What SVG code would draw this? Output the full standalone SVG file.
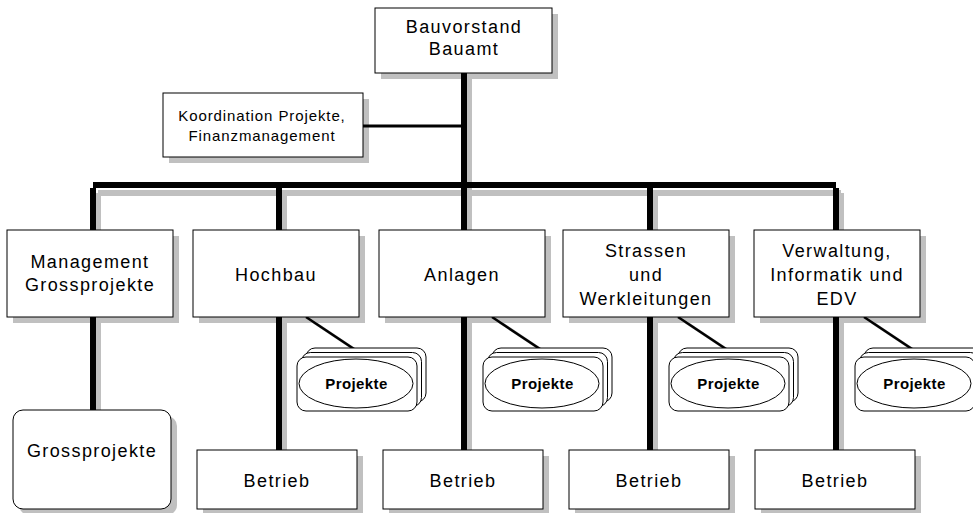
<svg xmlns="http://www.w3.org/2000/svg" width="973" height="513" viewBox="0 0 973 513">
<defs>
<style>
.bx{fill:#fff;stroke:#000;stroke-width:1}
.sh{fill:#c0c0c0;stroke:none}
.t{font-family:"Liberation Sans",Arial,sans-serif;font-size:18px;letter-spacing:1.4px;fill:#000;text-anchor:middle}
.ts{font-family:"Liberation Sans",Arial,sans-serif;font-size:15px;letter-spacing:0.9px;fill:#000;text-anchor:middle}
.pj{font-family:"Liberation Sans",Arial,sans-serif;font-size:15px;font-weight:bold;letter-spacing:0.4px;fill:#000;text-anchor:middle}
.ln{fill:none;stroke:#000;stroke-width:6}
.lns{fill:none;stroke:#c0c0c0;stroke-width:6}
.card{fill:#fff;stroke:#000;stroke-width:1}
</style>
<g id="stack">
<rect class="card" x="9" y="-9" width="120" height="54" rx="9"/>
<rect class="card" x="4.5" y="-4.5" width="120" height="54" rx="9"/>
<rect class="card" x="0" y="0" width="120" height="54" rx="9"/>
<ellipse cx="59" cy="26.5" rx="57" ry="24.5" fill="#fff" stroke="#000" stroke-width="1"/>
<text class="pj" x="59.5" y="32">Projekte</text>
</g>
</defs>

<!-- box shadows -->
<g id="shadows">
<rect class="sh" x="381" y="14" width="177" height="65"/>
<rect class="sh" x="169" y="99" width="200" height="64"/>
<rect class="sh" x="13" y="236" width="166" height="87"/>
<rect class="sh" x="199" y="236" width="166" height="87"/>
<rect class="sh" x="385" y="236" width="166" height="87"/>
<rect class="sh" x="569" y="236" width="166" height="87"/>
<rect class="sh" x="760" y="236" width="166" height="87"/>
<rect class="sh" x="19" y="416" width="158" height="99" rx="10"/>
<rect class="sh" x="203" y="456" width="160" height="59"/>
<rect class="sh" x="389" y="456" width="160" height="59"/>
<rect class="sh" x="575" y="456" width="160" height="59"/>
<rect class="sh" x="761" y="456" width="160" height="59"/>
</g>

<g id="connectors">
<g transform="translate(5,5)">
<path class="lns" d="M464 73 V450 M93 188 H836 M93 188 V410 M279 188 V450 M650 188 V450 M836 188 V450"/>
</g>
<path class="ln" d="M464 73 V450 M93 185 H836 M93 188 V410 M279 188 V450 M650 188 V450 M836 188 V450"/>
<line x1="363" y1="126" x2="464" y2="126" stroke="#000" stroke-width="3"/>
<g stroke="#c0c0c0" stroke-width="3" fill="none">
<path d="M309 319 L360 353 M495 319 L546 353 M681 319 L732 353 M867 319 L918 353"/>
</g>
<g stroke="#000" stroke-width="2.5" fill="none">
<path d="M306 317 L357 351 M492 317 L543 351 M678 317 L729 351 M864 317 L915 351"/>
</g>
</g>

<g id="bauvorstand">
<rect class="bx" x="375" y="8" width="177" height="65"/>
<text class="t" x="464" y="33">Bauvorstand</text>
<text class="t" x="464" y="55">Bauamt</text>
</g>

<g id="koordination">
<rect class="bx" x="163" y="93" width="200" height="64"/>
<text class="ts" x="262" y="121">Koordination Projekte,</text>
<text class="ts" x="262" y="141">Finanzmanagement</text>
</g>

<g id="management">
<rect class="bx" x="7" y="230" width="166" height="87"/>
<text class="t" x="90" y="268">Management</text>
<text class="t" x="90" y="291">Grossprojekte</text>
</g>

<g id="hochbau">
<rect class="bx" x="193" y="230" width="166" height="87"/>
<text class="t" x="276" y="281">Hochbau</text>
</g>

<g id="anlagen">
<rect class="bx" x="379" y="230" width="166" height="87"/>
<text class="t" x="462" y="281">Anlagen</text>
</g>

<g id="strassen">
<rect class="bx" x="563" y="230" width="166" height="87"/>
<text class="t" x="646" y="257">Strassen</text>
<text class="t" x="646" y="281">und</text>
<text class="t" x="646" y="305">Werkleitungen</text>
</g>

<g id="verwaltung">
<rect class="bx" x="754" y="230" width="166" height="87"/>
<text class="t" x="837" y="257">Verwaltung,</text>
<text class="t" x="837" y="281">Informatik und</text>
<text class="t" x="837" y="305">EDV</text>
</g>

<g id="projekte-hochbau"><use href="#stack" x="297" y="357"/></g>
<g id="projekte-anlagen"><use href="#stack" x="483" y="357"/></g>
<g id="projekte-strassen"><use href="#stack" x="669" y="357"/></g>
<g id="projekte-verwaltung"><use href="#stack" x="855" y="357"/></g>

<g id="grossprojekte">
<rect class="bx" x="13" y="410" width="158" height="99" rx="10"/>
<text class="t" x="92" y="457">Grossprojekte</text>
</g>

<g id="betrieb-hochbau">
<rect class="bx" x="197" y="450" width="160" height="59"/>
<text class="t" x="277" y="487">Betrieb</text>
</g>
<g id="betrieb-anlagen">
<rect class="bx" x="383" y="450" width="160" height="59"/>
<text class="t" x="463" y="487">Betrieb</text>
</g>
<g id="betrieb-strassen">
<rect class="bx" x="569" y="450" width="160" height="59"/>
<text class="t" x="649" y="487">Betrieb</text>
</g>
<g id="betrieb-verwaltung">
<rect class="bx" x="755" y="450" width="160" height="59"/>
<text class="t" x="835" y="487">Betrieb</text>
</g>
</svg>
